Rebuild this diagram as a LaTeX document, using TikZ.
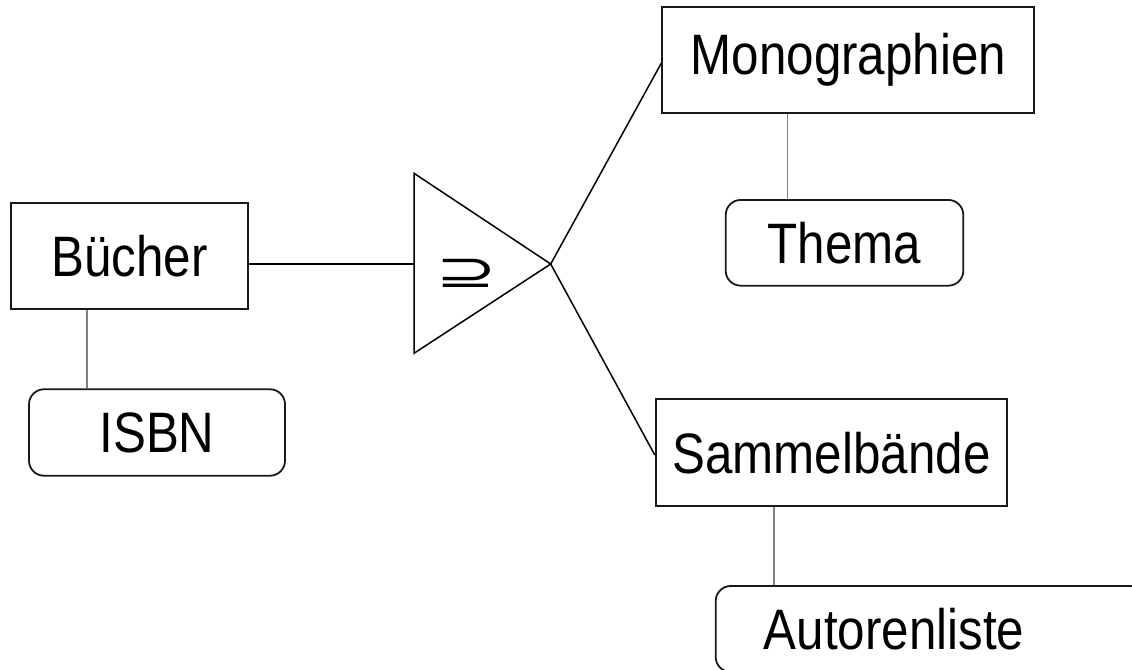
\documentclass[tikz,border=0pt]{standalone}
\usepackage{fontspec}
\usepackage{graphicx}
\setmainfont{Liberation Sans}[FakeStretch=0.865]
\newfontfamily\symfont{DejaVu Sans}
\begin{document}
\begin{tikzpicture}[x=1bp,y=-1bp,
  every node/.style={font=\fontsize{57bp}{63bp}\selectfont, inner sep=0pt},
  entity/.style={draw=black!90, line width=1.8bp, rectangle},
  attrib/.style={draw=black!90, line width=1.8bp, rectangle, rounded corners=15bp},
  link/.style={line width=1.5bp, black},
  attline/.style={line width=1.3bp, black!50}]
\clip (0,0) rectangle (1132,670);

% entity sets
\node[entity, minimum width=237.6bp, minimum height=105.7bp] (buecher) at (129.5,256.2) {Bücher};
\node[entity, minimum width=372bp, minimum height=106bp] (mono) at (848.3,59.7) {Monographien};
\node[entity, minimum width=351.6bp, minimum height=106.7bp] (sammel) at (831.5,452.7) {Sammelbände};

% attributes
\node[attrib, minimum width=256bp, minimum height=86.4bp] (isbn) at (157,432.5) {ISBN};
\node[attrib, minimum width=237.6bp, minimum height=85.7bp] (thema) at (844.5,242.8) {Thema};
\node[attrib, minimum width=429.3bp, minimum height=86bp] (autoren) at (930.35,629) {\hspace*{-72.7bp}Autorenliste};

% specialisation triangle
\coordinate (ttop) at (414,173.3);
\coordinate (tbot) at (414,353.3);
\coordinate (apex) at (550.7,264);
\coordinate (tin) at (414,264);
\draw[link, line join=miter] (ttop) -- (apex) -- (tbot) -- cycle;
\node[font=\symfont\fontsize{46bp}{52bp}\selectfont] (sym) at (466.7,273.3) {\scalebox{1.6}[1]{⊇}};

% connectors
\draw[link] (tin -| buecher.east) -- (tin);
\draw[link] (apex) -- ([yshift=-3.3bp]mono.west);
\draw[link] (apex) -- ([yshift=-2.3bp]sammel.west);

\coordinate (k1) at (87,0);
\coordinate (k2) at (787.3,0);
\coordinate (k3) at (774,0);
\draw[attline] (buecher.south -| k1) -- (isbn.north -| k1);
\draw[attline] (mono.south -| k2) -- (thema.north -| k2);
\draw[attline] (sammel.south -| k3) -- (autoren.north -| k3);
\end{tikzpicture}
\end{document}
